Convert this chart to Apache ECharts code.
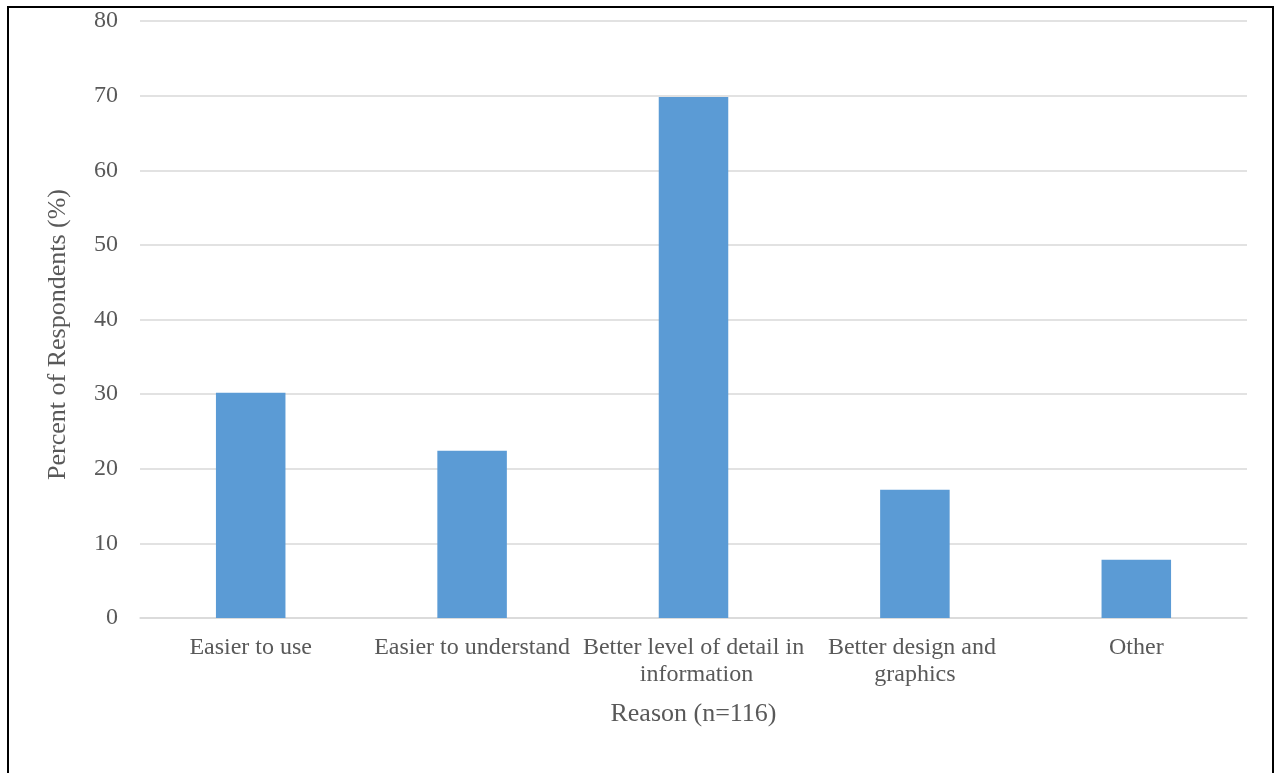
<!DOCTYPE html>
<html>
<head>
<meta charset="utf-8">
<script src="https://cdn.jsdelivr.net/npm/echarts@6/dist/echarts.min.js"></script>
<style>
  html, body { margin: 0; padding: 0; background: #fff; }
  #chart { width: 1275px; height: 773px; }
</style>
</head>
<body>
<div id="chart"></div>
<script>
// Reasons given for preferring the new format (share of respondents, n = 116)
const reasons = [
  'Easier to use',
  'Easier to understand',
  'Better level of detail in information',
  'Better design and graphics',
  'Other'
];
const percents = [30.2, 22.4, 69.8, 17.2, 7.8];
const yTicks = { min: 0, max: 80, interval: 10 };
const xTitle = 'Reason (n=116)';
const yTitle = 'Percent of Respondents (%)';

const FONT = '"Liberation Serif", "Times New Roman", serif';
const TEXT = '#595959';

const chart = echarts.init(document.getElementById('chart'), null, { renderer: 'canvas' });
chart.setOption({
  animation: false,
  backgroundColor: '#ffffff',
  textStyle: { fontFamily: FONT },
  graphic: [{
    type: 'rect',
    shape: { x: 8, y: 7, width: 1265, height: 820 },
    style: { fill: 'none', stroke: '#000000', lineWidth: 2 },
    silent: true,
    z: -1
  }],
  grid: { left: 140, right: 28, top: 21, bottom: 155, containLabel: false },
  xAxis: {
    type: 'category',
    data: reasons,
    name: xTitle,
    nameLocation: 'middle',
    nameGap: 83,
    nameTextStyle: { fontFamily: FONT, fontSize: 26, color: TEXT },
    axisLine: { show: true, lineStyle: { color: '#d9d9d9', width: 1.5 } },
    axisTick: { show: false },
    axisLabel: {
      interval: 0,
      fontFamily: FONT,
      fontSize: 24,
      color: TEXT,
      margin: 16,
      lineHeight: 27,
      width: 222,
      overflow: 'break',
      align: 'center'
    }
  },
  yAxis: {
    type: 'value',
    min: yTicks.min,
    max: yTicks.max,
    interval: yTicks.interval,
    name: yTitle,
    nameLocation: 'middle',
    nameGap: 69,
    nameRotate: 90,
    nameTextStyle: { fontFamily: FONT, fontSize: 26, color: TEXT, padding: [0, 30, 0, 0] },
    axisLine: { show: false },
    axisTick: { show: false },
    axisLabel: { fontFamily: FONT, fontSize: 24, color: TEXT, margin: 22 },
    splitLine: { lineStyle: { color: '#d9d9d9', width: 1.5 } }
  },
  series: [{
    type: 'bar',
    data: percents,
    barWidth: '31.4%',
    itemStyle: { color: '#5b9bd5' }
  }]
});
</script>
</body>
</html>
